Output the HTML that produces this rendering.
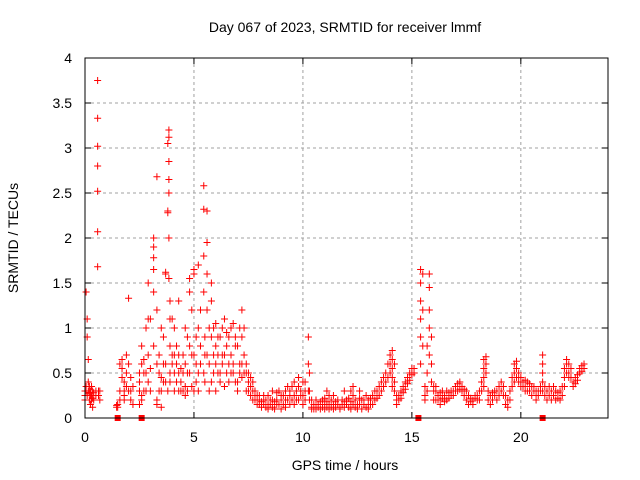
<!DOCTYPE html>
<html><head><meta charset="utf-8"><style>
html,body{margin:0;padding:0;background:#fff}
svg{display:block;font-family:"Liberation Sans",sans-serif}
</style></head><body>
<svg id="chart" width="640" height="480">
<rect width="640" height="480" fill="#fff"/>
<text x="345" y="32" text-anchor="middle" font-size="14">Day 067 of 2023, SRMTID for receiver lmmf</text>
<g id="grid"></g>
<g id="pts"></g>
<rect x="85" y="58" width="523" height="360" fill="none" stroke="#000" stroke-width="1"/>
<g id="ticks"></g>
<text x="345" y="470" text-anchor="middle" font-size="14">GPS time / hours</text>
<text x="18" y="238" text-anchor="middle" font-size="14" transform="rotate(-90 18 238)">SRMTID / TECUs</text>
</svg>
<script>
const xTicks=[0,5,10,15,20];
const xTickLabels=["0","5","10","15","20"];
const yTicks=[0,0.5,1,1.5,2,2.5,3,3.5,4];
const yTickLabels=["0","0.5","1","1.5","2","2.5","3","3.5","4"];
// each row: [time in hours, value, value, ...]
const samples=[
[0.0,0.25,0.3,0.2],[0.05,0.35,1.4,0.3],[0.1,1.1,0.9,0.25],[0.15,0.65,0.3,0.4],[0.2,0.28,0.2,0.35],[0.25,0.3,0.15,0.25],[0.3,0.25,0.35,0.2],[0.35,0.3,0.12,0.22],[0.4,0.28,0.2],[0.5,0.3,0.25],[0.58,3.75,3.33,3.02,2.8,2.52,2.07,1.68],[0.62,0.3,0.25],[0.68,0.2,0.3],
[1.45,0.12,0.14],[1.5,0.15,0.12],[1.6,0.3,0.6,0.2],[1.7,0.65,0.55,0.45],[1.8,0.3,0.4,0.25,0.2],[1.9,0.5,0.7,0.35],[2.0,1.33,0.3,0.6],[2.1,0.2,0.45,0.3],[2.2,0.15,0.35],
[2.5,0.4,0.15,0.3,0.5],[2.6,0.6,0.8,0.25,0.2],[2.7,0.5,0.3,0.65],[2.8,1.0,0.5,0.3],[2.9,1.5,0.7,0.4,1.1],[3.0,1.1,0.55,0.3],[3.15,1.78,1.65,2.0,1.9,1.4,0.8],[3.3,1.2,2.68,0.6,0.2,0.15],[3.4,0.3,0.5,0.7],[3.5,0.3,0.12,0.45,1.0],[3.6,0.9,0.4,0.6],[3.7,1.6,1.62,0.6,0.4],[3.8,2.28,2.3,3.05,0.3],[3.85,3.2,3.12,2.85,2.65,2.5,2.0,1.55],[3.9,1.1,0.8,1.3,0.5,0.4],[4.0,1.1,0.6,0.7],[4.1,0.7,0.5,1.0,0.3],[4.2,0.6,0.8,0.4],[4.3,0.7,0.5,0.3,1.3],[4.4,0.4,0.3,0.55],[4.5,0.5,0.7,0.3],[4.6,0.35,0.6,0.25,1.0],[4.7,0.5,0.9,0.3],[4.8,0.5,1.4,1.55,0.8],[4.9,0.35,0.7,1.2],[5.0,0.3,0.7,1.6,1.65],[5.1,0.6,0.9,0.4],[5.2,0.3,1.0,1.7,0.5],[5.3,0.6,1.2,0.8],[5.45,2.58,2.32,1.8,1.4,0.5],[5.5,0.9,0.7,0.4],[5.6,1.2,2.3,1.95,1.6,0.7],[5.7,0.6,1.0,0.3],[5.8,1.3,1.5,0.9,0.4],[5.9,0.7,0.5,1.0],[6.0,0.6,0.8,1.05,0.3],[6.1,0.5,0.9,0.7],[6.2,0.9,0.5,0.4],[6.3,0.7,1.0,0.6],[6.4,1.1,0.7,0.35],[6.5,0.8,0.5,0.95],[6.6,0.9,0.6,0.4],[6.7,1.0,0.7,0.5],[6.8,1.05,0.5,0.6],[6.9,0.8,0.4,0.9],[7.0,0.8,0.4,0.3],[7.1,0.6,1.0,0.5],[7.2,1.2,0.9,0.6,0.45],[7.3,0.7,0.5,1.0],[7.4,0.5,0.3,0.6],[7.5,0.4,0.3,0.5],[7.6,0.45,0.35,0.25],[7.7,0.3,0.4,0.2],[7.8,0.3,0.2,0.25],[7.9,0.25,0.15,0.2],[8.0,0.2,0.15,0.25],[8.1,0.18,0.12],[8.2,0.15,0.2,0.25],[8.3,0.12,0.2],[8.4,0.15,0.25,0.1],[8.5,0.2,0.15],[8.6,0.12,0.2,0.3],[8.7,0.18,0.1],[8.8,0.2,0.28,0.15],[8.9,0.15,0.3],[9.0,0.2,0.1,0.25],[9.1,0.25,0.15],[9.2,0.3,0.2,0.12],[9.3,0.35,0.2],[9.4,0.3,0.15,0.25],[9.5,0.2,0.35],[9.6,0.4,0.25,0.15],[9.7,0.3,0.2],[9.8,0.35,0.2,0.45],[9.9,0.3,0.25],[10.0,0.25,0.4,0.15],[10.1,0.3,0.2,0.4],[10.25,0.9,0.6,0.3],[10.3,0.5,0.3,0.2],[10.4,0.12,0.1,0.2],[10.5,0.15,0.1],[10.6,0.12,0.2,0.1],[10.7,0.15,0.12],[10.8,0.18,0.1],[10.9,0.12,0.2],[11.0,0.15,0.1,0.22],[11.1,0.18,0.12,0.3],[11.2,0.1,0.15,0.25],[11.3,0.2,0.12],[11.4,0.15,0.25,0.1],[11.5,0.18,0.12],[11.6,0.15,0.2],[11.7,0.12,0.1],[11.8,0.2,0.15],[11.9,0.3,0.18,0.12],[12.0,0.15,0.2],[12.1,0.22,0.12],[12.2,0.18,0.1,0.3],[12.3,0.15,0.25,0.35],[12.4,0.12,0.2],[12.5,0.15,0.1],[12.6,0.3,0.22,0.15],[12.7,0.2,0.1],[12.8,0.15,0.2],[12.9,0.12,0.25],
[13.0,0.2,0.15,0.1],[13.1,0.22,0.15],[13.2,0.25,0.15],[13.3,0.3,0.2],[13.4,0.3,0.22],[13.5,0.35,0.25],[13.6,0.4,0.3],[13.7,0.45,0.35],[13.8,0.5,0.4],[13.9,0.6,0.45],[14.0,0.7,0.6,0.5],[14.1,0.75,0.65,0.55,0.45,0.35],[14.2,0.6,0.4,0.3],[14.3,0.25,0.2,0.15],[14.4,0.2,0.25],[14.5,0.3,0.22],[14.6,0.35,0.28],[14.7,0.4,0.32],[14.8,0.45,0.38],[14.9,0.5,0.42],[15.0,0.55,0.48],[15.1,0.55,0.5],
[15.4,1.65,1.5,1.3,1.1,0.9,0.6],[15.5,1.2,0.8,1.6],[15.6,0.35,0.25,0.2],[15.7,0.3,0.5,0.8],[15.8,1.6,1.45,1.2,1.0,0.7],[15.9,0.9,0.6,0.4],[16.0,0.3,0.2,0.35],
[16.1,0.3,0.2,0.35],[16.2,0.25,0.2],[16.3,0.28,0.2,0.15],[16.4,0.3,0.22],[16.5,0.25,0.18],[16.6,0.3,0.2],[16.7,0.28,0.22],[16.8,0.3,0.25],[16.9,0.3,0.25],[17.0,0.35,0.3],[17.1,0.38,0.3],[17.2,0.4,0.32],[17.3,0.35,0.3],[17.4,0.32,0.25],[17.5,0.3,0.2],[17.6,0.25,0.15],[17.7,0.22,0.18],[17.8,0.2,0.15],[17.9,0.22,0.25],[18.0,0.25,0.2],[18.1,0.3,0.2],[18.2,0.4,0.3],[18.3,0.65,0.55,0.45,0.35],[18.4,0.68,0.6,0.5],[18.5,0.3,0.2],[18.6,0.25,0.15],[18.7,0.2,0.28],[18.8,0.25,0.3],[18.9,0.3,0.2],[19.0,0.35,0.25],[19.1,0.4,0.3],[19.2,0.35,0.25],[19.3,0.25,0.15],[19.4,0.12,0.2],[19.5,0.2,0.3],[19.6,0.45,0.35],[19.7,0.6,0.5,0.4],[19.8,0.63,0.55,0.45],[19.9,0.5,0.45,0.4],[20.0,0.45,0.4,0.35],[20.1,0.4,0.35],[20.2,0.42,0.35,0.3],[20.3,0.4,0.3],[20.4,0.38,0.3],[20.5,0.35,0.25],[20.6,0.35,0.3],[20.7,0.3,0.25,0.2],[20.8,0.3,0.25],[20.9,0.35,0.3],[21.0,0.7,0.6,0.5,0.4,0.3],[21.1,0.35,0.25],[21.2,0.3,0.2],[21.3,0.35,0.25],[21.4,0.3,0.2],[21.5,0.25,0.35],[21.6,0.3,0.2],[21.7,0.28,0.22],[21.8,0.3,0.2],[21.9,0.35,0.25],[22.0,0.55,0.45,0.35],[22.1,0.65,0.6,0.5],[22.2,0.6,0.5,0.45],[22.3,0.55,0.45],[22.4,0.4,0.35],[22.5,0.45,0.38],[22.6,0.48,0.42],[22.7,0.55,0.5],[22.8,0.58,0.52],[22.9,0.6,0.55]
];
const squares=[1.5,2.6,15.3,21.0];
const X0=85,X1=608,Y0=418,Y1=58,XMAX=24,YMAX=4;
function xs(t){return X0+(X1-X0)*t/XMAX;}
function ys(v){return Y0-(Y0-Y1)*v/YMAX;}
const NS="http://www.w3.org/2000/svg";
const grid=document.getElementById('grid'),ticks=document.getElementById('ticks'),pts=document.getElementById('pts');
function mk(tag,attrs,parent){const e=document.createElementNS(NS,tag);for(const k in attrs)e.setAttribute(k,attrs[k]);parent.appendChild(e);return e;}
xTicks.forEach((t,i)=>{
 const x=xs(t);
 if(t>0){const g=mk('line',{x1:x,x2:x,y1:Y1,y2:Y0,stroke:'#a0a0a0','stroke-dasharray':'3,3'},grid);
 
 }
 const tk=mk('path',{d:`M${x},${Y0}v-6M${x},${Y1}v6`,stroke:'#000'},ticks);
 
 
 const l=mk('text',{x:x,y:442,'text-anchor':'middle','font-size':'14'},ticks);l.textContent=xTickLabels[i];
 
 
});
yTicks.forEach((v,i)=>{
 const y=ys(v);
 if(v>0&&v<4){const g=mk('line',{x1:X0,x2:X1,y1:y,y2:y,stroke:'#a0a0a0','stroke-dasharray':'3,3'},grid);
 
 }
 const tk=mk('path',{d:`M${X0},${y}h6M${X1},${y}h-6`,stroke:'#000'},ticks);
 
 
 const l=mk('text',{x:72,y:y+5,'text-anchor':'end','font-size':'14'},ticks);l.textContent=yTickLabels[i];
 
 
});
let d='';
samples.forEach(row=>{const x=xs(row[0]);for(let j=1;j<row.length;j++){const y=ys(row[j]);d+=`M${x-3.5},${y}h7M${x},${y-3.5}v7`;}});
const p=mk('path',{d:d,stroke:'#f00','stroke-width':'1',fill:'none'},pts);


squares.forEach(t=>{const s=mk('rect',{x:xs(t)-3,y:Y0-3,width:6,height:6,fill:'#f00'},pts);
 
 });
</script>
</body></html>
